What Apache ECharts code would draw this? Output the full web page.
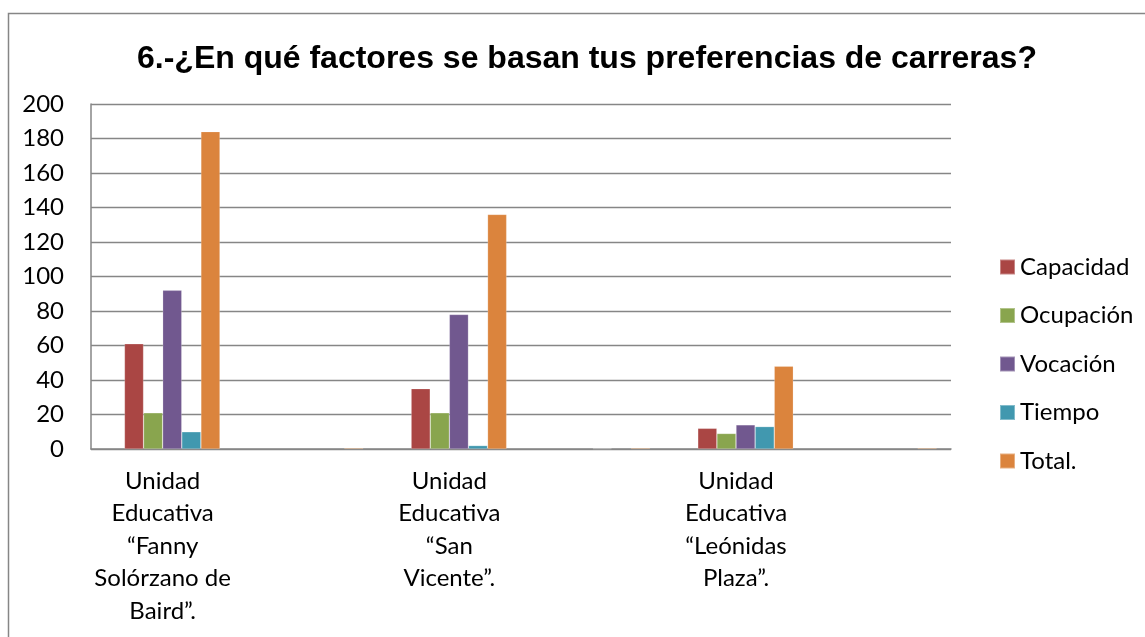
<!DOCTYPE html>
<html>
<head>
<meta charset="utf-8">
<script src="https://cdn.jsdelivr.net/npm/echarts@6/dist/echarts.min.js"></script>
<style>
html,body{margin:0;padding:0;background:#fff;}
#c{width:1145px;height:637px;}
</style>
</head>
<body>
<div id="c"></div>
<script>
var titleText = '6.-¿En qué factores se basan tus preferencias de carreras?';
var categories = [
  'Unidad\nEducativa\n“Fanny\nSolórzano de\nBaird”.',
  '',
  'Unidad\nEducativa\n“San\nVicente”.',
  '',
  'Unidad\nEducativa\n“Leónidas\nPlaza”.',
  ''
];
var seriesNames = ['Capacidad', 'Ocupación', 'Vocación', 'Tiempo', 'Total.'];
var blankSeries = [null, null, null, null, null, null];
var capacidad = [61, null, 35, null, 12, null];
var ocupacion = [21, null, 21, null, 9, null];
var vocacion  = [92, null, 78, 0.3, 14, null];
var tiempo    = [10, null, 2, null, 13, null];
var total     = [184, 0.6, 136, 0.6, 48, 0.6];
var yTicks = {min: 0, max: 200, interval: 20};
var colors = ['#AA4644', '#89A54E', '#71588F', '#4198AF', '#DB843D'];

var values = [capacidad, ocupacion, vocacion, tiempo, total];
var font = 'Lato, "Open Sans", sans-serif';

var series = [{
  name: '_blank', type: 'bar', data: blankSeries, barGap: 0, barCategoryGap: '20%',
  silent: true
}];
values.forEach(function (v, i) {
  series.push({
    name: seriesNames[i], type: 'bar', data: v, barGap: 0, barCategoryGap: '20%',
    itemStyle: {color: colors[i], borderColor: 'rgba(255,255,255,0.35)', borderWidth: 0.6}
  });
});

var chart = echarts.init(document.getElementById('c'));
chart.setOption({
  animation: false,
  backgroundColor: '#fff',
  title: {
    text: titleText, left: 132, top: 38,
    textStyle: {fontFamily: '"Liberation Sans", Arial, sans-serif', fontWeight: 'bold', fontSize: 32, color: '#000'}
  },
  graphic: [{
    type: 'rect', shape: {x: 8.5, y: 13.5, width: 1200, height: 700},
    style: {fill: 'none', stroke: '#868686', lineWidth: 1.5}, silent: true
  }],
  legend: {
    data: seriesNames, orient: 'vertical', left: 994, top: 249,
    icon: 'rect', itemWidth: 15, itemHeight: 15, itemGap: 22.5,
    textStyle: {fontFamily: font, fontSize: 24, lineHeight: 26, color: '#000'}
  },
  grid: {left: 91, right: 194, top: 104, bottom: 188, containLabel: false},
  xAxis: {
    type: 'category', data: categories,
    axisLine: {lineStyle: {color: '#868686', width: 1.5}},
    axisTick: {show: false},
    axisLabel: {
      interval: 0, margin: 16, color: '#000', fontFamily: font, fontSize: 24, lineHeight: 32.5,
      align: 'center', verticalAlign: 'top'
    }
  },
  yAxis: {
    type: 'value', min: yTicks.min, max: yTicks.max, interval: yTicks.interval,
    axisLine: {show: true, lineStyle: {color: '#868686', width: 1.5}},
    axisTick: {show: false},
    splitLine: {lineStyle: {color: '#868686', width: 1.3}},
    axisLabel: {margin: 27, color: '#000', fontFamily: font, fontSize: 24}
  },
  series: series
});
</script>
</body>
</html>
